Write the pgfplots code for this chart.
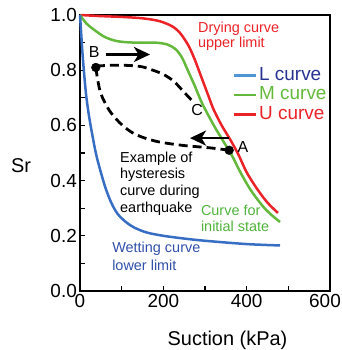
\documentclass[border=0pt]{standalone}
\usepackage{fontspec}
\setmainfont{Liberation Sans}
\usepackage{pgfplots}
\pgfplotsset{compat=1.18}
\usetikzlibrary{arrows.meta}
\definecolor{ured}{RGB}{235,35,40}
\definecolor{mgreen}{RGB}{100,185,60}
\definecolor{lblue}{RGB}{55,110,195}
\definecolor{legblue}{RGB}{80,150,215}
\definecolor{ltext}{RGB}{40,50,145}
\definecolor{wtext}{RGB}{50,80,170}
\definecolor{gtext}{RGB}{80,180,60}
\begin{document}
\begin{tikzpicture}
\begin{axis}[
  name=ax, scale only axis, width=250bp, height=276bp,
  xmin=0, xmax=600, ymin=0, ymax=1,
  xtick={0,200,400}, ytick={0,0.2,0.4,0.6,0.8,1.0},
  extra x ticks={600},
  extra x tick style={xticklabel style={xshift=-5bp}},
  minor xtick={100,300,500}, minor ytick={0.1,0.3,0.5,0.7,0.9},
  tick pos=left, tick align=inside,
  major tick length=5bp, minor tick length=5bp,
  tick style={black, line width=1.3bp},
  axis line style={line width=2.2bp},
  /pgf/number format/assume math mode=true,
  ticklabel style={font=\fontsize{19}{20}\selectfont, inner sep=0pt},
  xticklabel style={yshift=-3bp},
  yticklabel style={xshift=-3bp, /pgf/number format/fixed, /pgf/number format/fixed zerofill, /pgf/number format/precision=1},
  clip=false,
  legend style={at={(rel axis cs:0.61,0.815)}, anchor=north west, draw=none, fill=none, inner sep=0pt,
    font=\fontsize{19}{20}\selectfont, row sep=1.5bp,
    nodes={inner sep=0pt, text height=14bp, text depth=4bp},
    /tikz/every odd column/.append style={column sep=2bp}},
  legend cell align=left,
  legend image code/.code={\draw[#1, line width=2.5bp] (0bp,0bp) -- (22bp,0bp);},
]
% U curve (red)
\addplot[ured, line width=2.5bp, smooth, forget plot] coordinates {
(0,1.0) (50,0.996) (100,0.993) (150,0.988) (190,0.978) (220,0.96) (240,0.935) (260,0.89) (275,0.84) (290,0.78) (305,0.72) (320,0.66) (340,0.6) (360,0.55) (380,0.495) (400,0.43) (425,0.37) (450,0.32) (475,0.283)};
% M curve (green)
\addplot[mgreen, line width=2.5bp, smooth, forget plot] coordinates {
(0,1.0) (15,0.97) (35,0.945) (60,0.92) (90,0.905) (130,0.9) (180,0.9) (210,0.893) (230,0.875) (245,0.845) (260,0.795) (275,0.745) (290,0.69) (305,0.645) (325,0.59) (345,0.54) (365,0.49) (385,0.43) (410,0.365) (440,0.305) (460,0.275) (480,0.25)};
% L curve (blue)
\addplot[lblue, line width=2.5bp, smooth, forget plot] coordinates {
(0,1.0) (3,0.93) (7,0.84) (14,0.72) (20,0.65) (26,0.595) (38,0.5) (50,0.43) (62,0.37) (75,0.32) (90,0.28) (110,0.25) (130,0.23) (160,0.212) (200,0.2) (250,0.19) (300,0.182) (400,0.17) (480,0.165)};
% hysteresis dashed curves
\addplot[black, line width=2.8bp, dash pattern=on 9bp off 5bp, smooth, forget plot] coordinates {
(38,0.815) (80,0.818) (120,0.817) (150,0.812) (175,0.80) (200,0.785) (225,0.76) (250,0.72) (275,0.68)};
\addplot[black, line width=2.8bp, dash pattern=on 9bp off 5bp, smooth, forget plot] coordinates {
(38,0.81) (42,0.77) (50,0.715) (70,0.655) (95,0.61) (122,0.577) (150,0.557) (190,0.54) (250,0.527) (310,0.519) (358,0.51)};
% points A and B
\addplot[only marks, mark=*, mark size=4.4bp, black, forget plot] coordinates {(38,0.81) (358,0.51)};
% arrows
\addplot[black, line width=2.8bp, -{Stealth[length=16bp,width=15bp,inset=4.5bp]}, forget plot] coordinates {(62,0.857) (168,0.857)};
\addplot[black, line width=2.8bp, -{Stealth[length=16bp,width=15bp,inset=4.5bp]}, forget plot] coordinates {(358,0.554) (264,0.554)};
% legend
\addlegendimage{color=legblue}\addlegendentry{\textcolor{ltext}{L curve}}
\addlegendimage{color=mgreen}\addlegendentry{\textcolor{mgreen}{M curve}}
\addlegendimage{color=ured}\addlegendentry{\textcolor{ured}{U curve}}
% labels
\node[font=\fontsize{16}{18}\selectfont, inner sep=0pt] at (axis cs:34,0.866) {B};
\node[font=\fontsize{16}{18}\selectfont, inner sep=0pt] at (axis cs:281,0.656) {C};
\node[font=\fontsize{16}{18}\selectfont, inner sep=0pt] at (axis cs:391,0.522) {A};
\node[anchor=base west, inner sep=0pt, font=\fontsize{14.5}{17}\selectfont, text=ured] at (axis cs:283,0.938) {Drying curve};
\node[anchor=base west, inner sep=0pt, font=\fontsize{14.5}{17}\selectfont, text=ured] at (axis cs:283,0.884) {upper limit};
\node[anchor=base west, inner sep=0pt, font=\fontsize{14.5}{17}\selectfont] at (axis cs:96,0.467) {Example of};
\node[anchor=base west, inner sep=0pt, font=\fontsize{14.5}{17}\selectfont] at (axis cs:96,0.406) {hysteresis};
\node[anchor=base west, inner sep=0pt, font=\fontsize{14.5}{17}\selectfont] at (axis cs:96,0.346) {curve during};
\node[anchor=base west, inner sep=0pt, font=\fontsize{14.5}{17}\selectfont] at (axis cs:96,0.286) {earthquake};
\node[anchor=base west, inner sep=0pt, font=\fontsize{14.5}{17}\selectfont, text=wtext] at (axis cs:77,0.138) {Wetting curve};
\node[anchor=base west, inner sep=0pt, font=\fontsize{14.5}{17}\selectfont, text=wtext] at (axis cs:77,0.076) {lower limit};
\node[anchor=base west, inner sep=0pt, font=\fontsize{14.5}{17}\selectfont, text=gtext] at (axis cs:290,0.275) {Curve for};
\node[anchor=base west, inner sep=0pt, font=\fontsize{14.5}{17}\selectfont, text=gtext] at (axis cs:290,0.214) {initial state};
\node[anchor=base, inner sep=0pt, font=\fontsize{20}{22}\selectfont] at (axis description cs:-0.236,0.431) {Sr};
\node[anchor=base, inner sep=0pt, font=\fontsize{20}{22}\selectfont] at (axis description cs:0.59,-0.1957) {Suction (kPa)};
\end{axis}
\pgfresetboundingbox
\path ([shift={(-80bp,-59bp)}]ax.south west) rectangle ([shift={(12bp,15bp)}]ax.north east);
\end{tikzpicture}
\end{document}
